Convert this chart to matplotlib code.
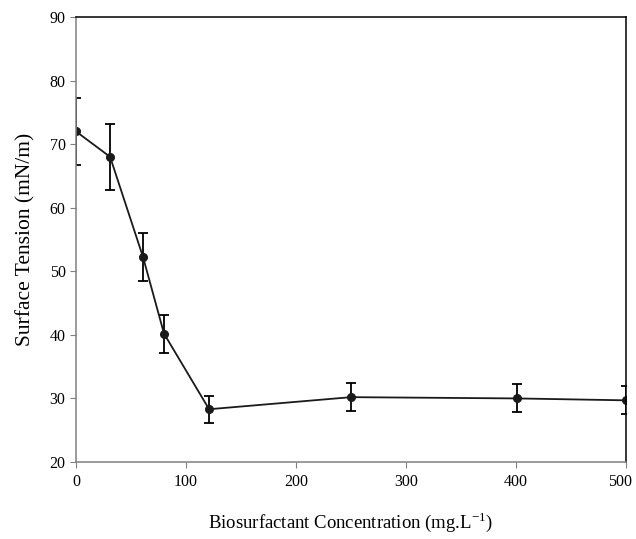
import numpy as np
import matplotlib.pyplot as plt
import matplotlib.transforms as mtransforms

conc = [0, 31, 61, 80, 121, 250, 401, 500]
tension = [72.0, 68.0, 52.2, 40.2, 28.3, 30.2, 30.0, 29.7]
err = [5.3, 5.2, 3.8, 3.0, 2.1, 2.2, 2.2, 2.2]

plt.rcParams['font.family'] = ['Liberation Serif', 'DejaVu Serif']
plt.rcParams['mathtext.fontset'] = 'custom'
plt.rcParams['mathtext.rm'] = 'Liberation Serif'

fig = plt.figure(figsize=(6.36, 5.39), dpi=100)
ax = fig.add_axes([76/636, 1-462/539, 550/636, 445/539])

ax.errorbar(conc, tension, yerr=err, color='#1a1a1a', lw=1.3, marker='o', ms=5.5,
            ecolor='black', elinewidth=1.3, capsize=3.5, capthick=1.3)

ax.set_xlim(0, 500)
ax.set_ylim(20, 90)
ax.set_xticks(np.arange(0, 501, 100))
ax.set_yticks(np.arange(20, 91, 10))
ax.tick_params(labelsize=11.5, length=4, color='#808080', direction='out')
ax.tick_params(axis='x', pad=5)
for s in ['left', 'bottom']:
    ax.spines[s].set_color('#808080')
for s in ['top', 'right']:
    ax.spines[s].set_color('black')
for s in ax.spines.values():
    s.set_linewidth(1.1)

# last x tick label sits a bit left so it fits in the figure
fig.canvas.draw()
last = ax.get_xticklabels()[-1]
last.set_transform(last.get_transform() + mtransforms.ScaledTranslation(-6/100, 0, fig.dpi_scale_trans))

ax.set_ylabel('Surface Tension (mN/m)', fontsize=15.5, labelpad=10)
ax.set_xlabel('Biosurfactant Concentration (mg.L$^{\\mathregular{-1}}$)', fontsize=13.5, labelpad=14)

fig.savefig('out.png', dpi=100)
